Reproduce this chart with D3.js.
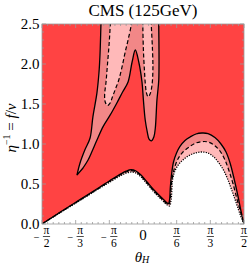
<!DOCTYPE html>
<html>
<head>
<meta charset="utf-8">
<script src="https://cdn.jsdelivr.net/npm/d3@7"></script>
<style>
	body { margin: 0; background: #fff; }
	text { font-family: "Liberation Serif", "DejaVu Serif", serif; fill: #000; }
</style>
</head>
<body>
<div id="dataviz"></div>
<script>
// theta_H in unita di pi, eta^-1 = f/v

// contorno continuo in alto (le due dita)
var solid_top = [
	[-0.327,0.61],[-0.312,0.76],[-0.287,0.93],[-0.262,1.075],[-0.248,1.34],[-0.228,1.64],
	[-0.218,1.89],[-0.213,2.11],[-0.208,2.5],[-0.206,2.62],[0.078,2.62],[0.078,2.5],
	[0.078,1.8],[0.069,1.55],[0.061,1.2],[0.054,1.09],[0.042,1.04],[0.030,1.06],
	[0.022,1.14],[0.011,1.3],[0.002,1.55],[-0.005,1.775],[-0.021,2.025],[-0.038,2.175],
	[-0.054,2.025],[-0.074,1.775],[-0.101,1.65],[-0.130,1.51],[-0.163,1.36],[-0.197,1.22],
	[-0.228,1.05],[-0.252,0.91],[-0.272,0.8],[-0.297,0.7]
];

// contorni tratteggiati in alto
var dashed_top_left = [
	[-0.058,2.62],[-0.058,2.5],[-0.074,2.3],[-0.089,2.14],[-0.104,1.96],[-0.120,1.8],
	[-0.136,1.69],[-0.151,1.59],[-0.163,1.51],[-0.176,1.48],[-0.187,1.525],[-0.190,1.61],
	[-0.183,1.775],[-0.176,1.99],[-0.168,2.24],[-0.162,2.5],[-0.161,2.62]
];
var dashed_top_right = [
	[-0.001,2.62],[-0.001,2.5],[0.002,2.175],[0.007,1.925],[0.012,1.74],[0.017,1.64],
	[0.025,1.59],[0.035,1.625],[0.044,1.725],[0.049,1.925],[0.047,2.175],[0.041,2.5],[0.041,2.62]
];

// contorni in basso
var solid_bottom = [
	[-0.5,0],[-0.411,0.146],[-0.312,0.305],[-0.213,0.4625],[-0.163,0.544],[-0.114,0.62],
	[-0.084,0.66],[-0.059,0.678],[-0.035,0.6625],[-0.010,0.6125],[0.020,0.525],[0.059,0.4125],
	[0.094,0.325],[0.114,0.275],[0.126,0.256],[0.132,0.31],[0.135,0.45],[0.141,0.61],
	[0.151,0.775],[0.166,0.8875],[0.183,0.97],[0.208,1.045],[0.233,1.0875],[0.262,1.125],
	[0.292,1.1375],[0.322,1.13],[0.356,1.08],[0.386,1.0],[0.411,0.9],[0.431,0.7625],
	[0.450,0.575],[0.470,0.35],[0.485,0.1625],[0.5,0]
];
var dashed_bottom = [
	[-0.5,0],[-0.411,0.144],[-0.312,0.30],[-0.213,0.456],[-0.163,0.5375],[-0.114,0.6125],
	[-0.084,0.65],[-0.059,0.6675],[-0.035,0.6525],[-0.010,0.60],[0.020,0.5125],[0.059,0.40],
	[0.094,0.3125],[0.114,0.2625],[0.128,0.244],[0.134,0.30],[0.138,0.425],[0.144,0.5625],
	[0.156,0.70],[0.173,0.8125],[0.198,0.90],[0.233,0.97],[0.262,1.0125],[0.292,1.03],
	[0.322,1.025],[0.351,0.9875],[0.381,0.9125],[0.406,0.80],[0.426,0.6625],[0.446,0.50],
	[0.465,0.3125],[0.483,0.15],[0.5,0]
];
var dotted_bottom = [
	[-0.5,0],[-0.411,0.14],[-0.312,0.294],[-0.213,0.45],[-0.163,0.525],[-0.114,0.60],
	[-0.084,0.635],[-0.059,0.65],[-0.035,0.6375],[-0.010,0.5875],[0.020,0.50],[0.059,0.3875],
	[0.094,0.30],[0.114,0.25],[0.131,0.225],[0.139,0.30],[0.143,0.425],[0.146,0.55],
	[0.158,0.6625],[0.178,0.75],[0.203,0.8125],[0.233,0.8625],[0.262,0.89],[0.292,0.90],
	[0.322,0.8875],[0.351,0.8375],[0.376,0.7625],[0.401,0.6625],[0.421,0.55],[0.441,0.4125],
	[0.460,0.275],[0.480,0.125],[0.5,0]
];

// tick
var x_ticks = [-1/2, -1/3, -1/6, 0, 1/6, 1/3, 1/2];
var x_tick_labels = ["−π/2", "−π/3", "−π/6", "0", "π/6", "π/3", "π/2"];
var y_ticks = [0, 0.5, 1.0, 1.5, 2.0, 2.5];
var y_tick_labels = ["0.0", "0.5", "1.0", "1.5", "2.0", "2.5"];

var col_red = "#ff4343";
var col_pink = "#f28787";
var col_light = "#ffb9b9";

function draw_chart(){
	var width = 249;
	var height = 264;

	var x = d3.scaleLinear().domain([-0.5, 0.5]).range([42, 244]);
	var y = d3.scaleLinear().domain([0, 2.5]).range([224, 24]);

	var svg = d3.select("#dataviz").append("svg")
		.attr("width", width)
		.attr("height", height);

	svg.append("defs").append("clipPath")
		.attr("id", "clip")
		.append("rect")
		.attr("x", x(-0.5)).attr("y", y(2.5))
		.attr("width", x(0.5) - x(-0.5))
		.attr("height", y(0) - y(2.5));

	var line = d3.line()
		.x(function(d) { return x(d[0]); })
		.y(function(d) { return y(d[1]); })
		.curve(d3.curveCatmullRom.alpha(0.5));

	var plot = svg.append("g").attr("clip-path", "url(#clip)");

	// sfondo rosso
	plot.append("rect")
		.attr("x", x(-0.5)).attr("y", y(2.5))
		.attr("width", x(0.5) - x(-0.5))
		.attr("height", y(0) - y(2.5))
		.style("fill", col_red);

	// riempimenti
	plot.append("path").attr("d", line(solid_bottom) + "Z").style("fill", col_pink);
	plot.append("path").attr("d", line(dashed_bottom) + "Z").style("fill", col_light);
	plot.append("path").attr("d", line(dotted_bottom) + "Z").style("fill", "#fff");
	plot.append("path").attr("d", line(solid_top) + "Z").style("fill", col_pink);
	plot.append("path").attr("d", line(dashed_top_left) + "Z").style("fill", col_light);
	plot.append("path").attr("d", line(dashed_top_right) + "Z").style("fill", col_light);

	// linee
	plot.append("path").attr("d", line(solid_top) + "Z")
		.style("fill", "none").style("stroke", "#000").style("stroke-width", 1.3);
	[dashed_top_left, dashed_top_right].forEach(function(c){
		plot.append("path").attr("d", line(c))
			.style("fill", "none").style("stroke", "#000").style("stroke-width", 1.2)
			.style("stroke-dasharray", "4,2.5");
	});
	plot.append("path").attr("d", line(dotted_bottom))
		.style("fill", "none").style("stroke", "#000").style("stroke-width", 1.3)
		.style("stroke-dasharray", "1.2,1.3");
	plot.append("path").attr("d", line(dashed_bottom))
		.style("fill", "none").style("stroke", "#000").style("stroke-width", 1.2)
		.style("stroke-dasharray", "4,2.5");
	plot.append("path").attr("d", line(solid_bottom))
		.style("fill", "none").style("stroke", "#000").style("stroke-width", 1.3);

	// cornice e tick
	var frame = svg.append("g").style("stroke", "#999").style("stroke-width", 0.8);
	frame.append("rect")
		.attr("x", x(-0.5)).attr("y", y(2.5))
		.attr("width", x(0.5) - x(-0.5))
		.attr("height", y(0) - y(2.5))
		.style("fill", "none");

	var x_minor = d3.range(-18, 19).map(function(i) { return i / 36; });
	x_minor.forEach(function(t){
		var major = x_ticks.some(function(m) { return Math.abs(m - t) < 1e-6; });
		var len = major ? 4 : 2;
		frame.append("line").attr("x1", x(t)).attr("x2", x(t))
			.attr("y1", y(0)).attr("y2", y(0) - len);
		frame.append("line").attr("x1", x(t)).attr("x2", x(t))
			.attr("y1", y(2.5)).attr("y2", y(2.5) + len);
	});
	var y_minor = d3.range(0, 26).map(function(i) { return i / 10; });
	y_minor.forEach(function(v){
		var major = y_ticks.some(function(m) { return Math.abs(m - v) < 1e-6; });
		var len = major ? 4 : 2;
		frame.append("line").attr("y1", y(v)).attr("y2", y(v))
			.attr("x1", x(-0.5)).attr("x2", x(-0.5) + len);
		frame.append("line").attr("y1", y(v)).attr("y2", y(v))
			.attr("x1", x(0.5)).attr("x2", x(0.5) - len);
	});

	// etichette asse y
	svg.selectAll(".ylab")
		.data(y_ticks)
		.enter()
		.append("text")
		.attr("class", "ylab")
		.attr("x", 39.5)
		.attr("y", function(d) { return y(d) + 4.5; })
		.attr("text-anchor", "end")
		.style("font-size", "15px")
		.text(function(d, i) { return y_tick_labels[i]; });

	// etichette asse x (frazioni di pi)
	x_ticks.forEach(function(t, i){
		var lab = x_tick_labels[i];
		var cx = x(t);
		if (lab.indexOf("/") < 0) {
			svg.append("text").attr("x", cx).attr("y", 240)
				.attr("text-anchor", "middle").style("font-size", "15px").text(lab);
			return;
		}
		var neg = lab.charAt(0) == "−";
		var parts = lab.replace("−", "").split("/");
		var fx = neg ? cx + 4.5 : cx;
		if (neg) {
			svg.append("text").attr("x", cx - 5.3).attr("y", 241.2)
				.attr("text-anchor", "middle").style("font-size", "10.5px").text("−");
		}
		svg.append("text").attr("x", fx).attr("y", 233.5)
			.attr("text-anchor", "middle").style("font-size", "11.5px").text(parts[0]);
		svg.append("line").attr("x1", fx - 3.6).attr("x2", fx + 3.6)
			.attr("y1", 236.5).attr("y2", 236.5)
			.style("stroke", "#000").style("stroke-width", 0.7);
		svg.append("text").attr("x", fx).attr("y", 246.5)
			.attr("text-anchor", "middle").style("font-size", "11.5px").text(parts[1]);
	});

	// titoli
	svg.append("text")
		.attr("x", 143).attr("y", 16)
		.attr("text-anchor", "middle")
		.style("font-size", "17px")
		.text("CMS (125GeV)");

	var xt = svg.append("text")
		.attr("x", 142).attr("y", 261.5)
		.attr("text-anchor", "middle")
		.style("font-size", "15px");
	xt.append("tspan").style("font-style", "italic").text("θ");
	xt.append("tspan").attr("dy", 1.5).style("font-size", "10px").style("font-style", "italic").text("H");

	var yt = svg.append("text")
		.attr("transform", "translate(16,128) rotate(-90)")
		.attr("text-anchor", "middle")
		.style("font-size", "15px");
	yt.append("tspan").style("font-style", "italic").text("η");
	yt.append("tspan").attr("dy", -6).style("font-size", "10px").text("−1");
	yt.append("tspan").attr("dy", 6).text(" = ");
	yt.append("tspan").style("font-style", "italic").text("f");
	yt.append("tspan").text("/");
	yt.append("tspan").style("font-style", "italic").text("v");
}

draw_chart();
</script>
</body>
</html>
